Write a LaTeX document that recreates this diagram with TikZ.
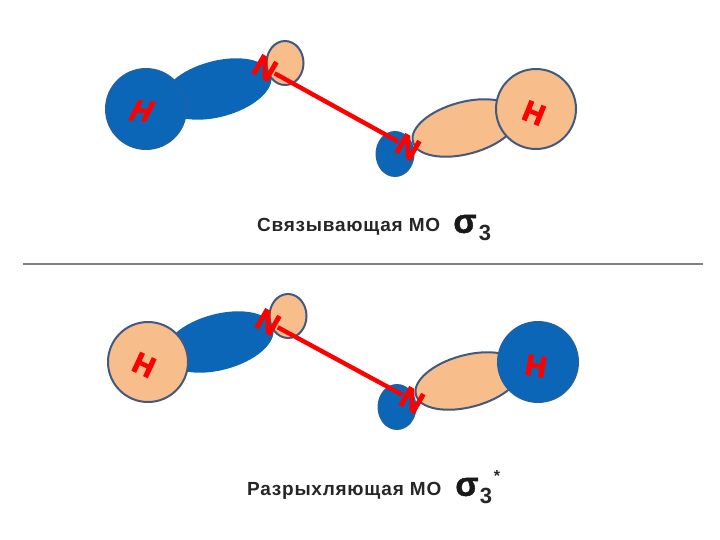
\documentclass[tikz,border=0pt]{standalone}
\usepackage{fontspec}
\setmainfont{Liberation Sans}
\newfontfamily\atomfont[BoldFeatures={FakeBold=3.5}]{Liberation Sans}
\newfontfamily\lblfont[LetterSpace=4,BoldFeatures={LetterSpace=4}]{Liberation Sans}
\newfontfamily\sigfont[BoldFeatures={FakeBold=1.5}]{Liberation Sans}
\usetikzlibrary{shapes.geometric}
\definecolor{orbblue}{HTML}{0B66B8}
\definecolor{orbpeach}{HTML}{F7BE8C}
\definecolor{orbedge}{HTML}{41587F}
\definecolor{sepgray}{HTML}{7F7F7F}
\tikzset{
  lobe/.style={ellipse,draw=orbedge,line width=2pt,inner sep=0pt,outer sep=0pt},
  bigb/.style={lobe,fill=orbblue,draw=orbblue!70!orbedge,minimum width=80pt,minimum height=80pt},
  bigp/.style={lobe,fill=orbpeach,minimum width=80pt,minimum height=80pt},
  longb/.style={lobe,fill=orbblue,draw=orbblue,minimum width=110pt,minimum height=54pt},
  longp/.style={lobe,fill=orbpeach,minimum width=108pt,minimum height=52pt},
  smallb/.style={lobe,fill=orbblue,draw=orbblue!70!orbedge,minimum width=37pt,minimum height=44pt},
  smallp/.style={lobe,fill=orbpeach,minimum width=37pt,minimum height=44pt},
  atomH/.style={text=red,font=\atomfont\fontsize{29}{29}\selectfont\bfseries,inner sep=0pt},
  atomN/.style={text=red,font=\atomfont\fontsize{30}{30}\selectfont\bfseries,inner sep=0pt},
  bond/.style={red,line width=4.4pt},
  molabel/.style={font=\lblfont\fontsize{19}{19}\selectfont\bfseries,text=black!85,inner sep=0pt,anchor=base west},
  sig/.style={font=\sigfont\fontsize{34}{34}\selectfont\bfseries,text=black!90,inner sep=0pt},
  subs/.style={font=\fontsize{22}{22}\selectfont\bfseries,text=black!85,inner sep=0pt}
}
\begin{document}
\begin{tikzpicture}[x=1pt,y=-1pt]
\useasboundingbox (0,0) rectangle (720,540);
% top molecule
\node[longb,rotate=15] (e1) at (217,89) {};
\node[smallp] (s1) at (285,63) {};
\node[bigb] (h1) at (146,109) {};
\node[smallb] (s2) at (395,154) {};
\node[longp,rotate=15] (e2) at (465,128) {};
\node[bigp] (h2) at (536,109) {};
\node[atomH,rotate=-5,xslant=0.4] (lh1) at (142,111) {H};
\node[atomH,rotate=-22] (lh2) at (534,113) {H};
\node[atomN,rotate=-30] (n1) at (265,68) {N};
\node[atomN,rotate=-30] (n2) at (408,147) {N};
\draw[bond] (n1) -- (n2);
\node[molabel] (t1) at (257,232) {Связывающая МО};
\node[sig] (sg1) at (465,224) {σ};
\node[subs] (sb1) at (485,233) {3};
% separator
\coordinate (sl) at (23,264);
\coordinate (sr) at (703,264);
\draw[sepgray,line width=2.4pt] (sl) -- (sr);
% bottom molecule
\node[longb,rotate=15] (e3) at (219,342) {};
\node[smallp] (s3) at (288,316) {};
\node[bigp] (h3) at (148,362) {};
\node[smallb] (s4) at (397,407) {};
\node[longp,rotate=15] (e4) at (468,381) {};
\node[bigb] (h4) at (538,362) {};
\node[atomH,rotate=-25] (lh3) at (144,365) {H};
\node[atomH,rotate=-10] (lh4) at (536,366) {H};
\node[atomN,rotate=-30] (n3) at (268,322) {N};
\node[atomN,rotate=-30] (n4) at (412,400) {N};
\draw[bond] (n3) -- (n4);
\node[molabel] (t2) at (247,495) {Разрыхляющая МО};
\node[sig] (sg2) at (467,487) {σ};
\node[subs] (sb2) at (486,496) {3};
\node[subs,font=\fontsize{16}{16}\selectfont\bfseries] (st2) at (497,476) {*};
\end{tikzpicture}
\end{document}
